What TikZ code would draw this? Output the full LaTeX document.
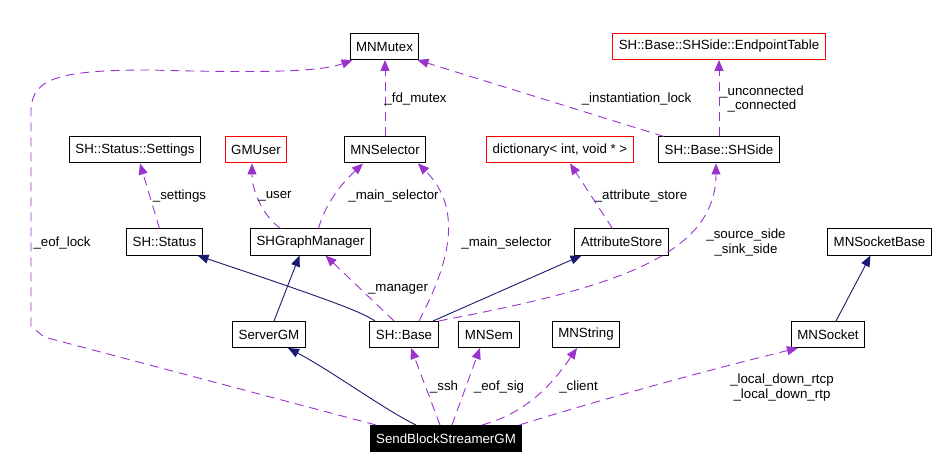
\documentclass[tikz,border=0pt]{standalone}
\usepackage{fontspec}
\setmainfont{Liberation Sans}
\usepackage{tikz}
\usetikzlibrary{arrows.meta}

\definecolor{inhblue}{RGB}{25,25,112}
\definecolor{usepurple}{RGB}{154,50,205}

\begin{document}
\begin{tikzpicture}[x=1pt,y=-1pt,
    font=\fontsize{13.3}{14.5}\selectfont,
    cls/.style={draw=black,line width=1pt,inner xsep=6pt,inner ysep=0pt,minimum height=26pt},
    redcls/.style={cls,draw=red},
    inh/.style={draw=inhblue,line width=0.9pt,-{Triangle[length=11pt,width=9pt]}},
    use/.style={draw=usepurple,line width=0.9pt,dash pattern=on 9pt off 6pt,
      -{Triangle[length=11pt,width=9pt,fill=usepurple]}},
    lbl/.style={inner sep=0pt,align=center}]
    \useasboundingbox (0,0) rectangle (938,468);

    % classes, top row
    \node[cls] (mnmutex) at (384.5,46.5) {MNMutex};
    \node[redcls] (eptable) at (719,46.5) {SH::Base::SHSide::EndpointTable};

    % second row
    \node[cls] (settings) at (135,150) {SH::Status::Settings};
    \node[redcls] (gmuser) at (256,150) {GMUser};
    \node[cls] (mnselector) at (385,150) {MNSelector};
    \node[redcls] (dict) at (560,150) {dictionary< int, void * >};
    \node[cls] (shside) at (719,150) {SH::Base::SHSide};

    % third row
    \node[cls] (status) at (164.5,242) {SH::Status};
    \node[cls] (graphmgr) at (310.5,242) {SHGraphManager};
    \node[cls] (attrstore) at (621.5,242) {AttributeStore};
    \node[cls] (sockbase) at (879.5,242) {MNSocketBase};

    % fourth row
    \node[cls] (servergm) at (269,334.5) {ServerGM};
    \node[cls] (shbase) at (404,334.5) {SH::Base};
    \node[cls] (mnsem) at (489,334.5) {MNSem};
    \node[cls] (mnstring) at (586,334.5) {MNString};
    \node[cls] (mnsocket) at (828,334.5) {MNSocket};

    % the class itself
    \node[cls,fill=black,text=white] (sendgm) at (446,438.5) {SendBlockStreamerGM};

    % inheritance
    \draw[inh] ([xshift=-29pt]shbase.north) .. controls (362,312) and (330,300) .. ([xshift=33pt]status.south);
    \draw[inh] ([xshift=5pt]servergm.north) -- ([xshift=-11pt]graphmgr.south);
    \draw[inh] ([xshift=29pt]shbase.north) -- ([xshift=-40pt]attrstore.south);
    \draw[inh] ([xshift=-30pt]sendgm.north) .. controls (385,410) and (330,370) .. ([xshift=19pt]servergm.south);
    \draw[inh] ([xshift=8pt]mnsocket.north) -- ([xshift=-9pt]sockbase.south);

    % usage
    \draw[use] ([xshift=-70pt]sendgm.north) -- (44,337) -- (31,326) -- (31,110)
      .. controls (32,78) and (60,70) .. (150,70)
      .. controls (260,73) and (320,72) .. ([xshift=3pt]mnmutex.south west);
    \draw[use] ([xshift=-55pt]shside.north) -- ([xshift=-2pt]mnmutex.south east);
    \draw[use] (mnselector.north) -- (mnselector.north |- mnmutex.south);
    \draw[use] (shside.north) -- (eptable.south);
    \draw[use] ([xshift=-5pt]status.north) -- ([xshift=5pt]settings.south);
    \draw[use] ([xshift=-30pt]graphmgr.north) .. controls (262,215) and (252,190) .. ([xshift=-4pt]gmuser.south);
    \draw[use] ([xshift=8pt]graphmgr.north) .. controls (325,205) and (340,185) .. ([xshift=-22pt]mnselector.south);
    \draw[use] ([xshift=15pt]shbase.north) .. controls (440,280) and (470,215) .. ([xshift=33pt]mnselector.south);
    \draw[use] ([xshift=-10pt]shbase.north) -- ([xshift=15pt]graphmgr.south);
    \draw[use] ([xshift=-9pt]attrstore.north) -- ([xshift=10pt]dict.south);
    \draw[use] (shbase.north east) .. controls (600,290) and (716,260) .. ([xshift=-3pt]shside.south);
    \draw[use] ([xshift=-6pt]sendgm.north) -- ([xshift=7pt]shbase.south);
    \draw[use] ([xshift=6pt]sendgm.north) -- ([xshift=-9pt]mnsem.south);
    \draw[use] ([xshift=36pt]sendgm.north) .. controls (530,412) and (555,380) .. ([xshift=-9pt]mnstring.south);
    \draw[use] ([xshift=-3pt]sendgm.north east) .. controls (600,400) and (700,372) .. ([xshift=-30pt]mnsocket.south);

    % member names
    \node[lbl] (l-eoflock) at (62,243) {\_eof\_lock};
    \node[lbl] (l-fdmutex) at (415.5,99) {\_fd\_mutex};
    \node[lbl] (l-instlock) at (636.5,99) {\_instantiation\_lock};
    \node[lbl] (l-connected) at (762,99) {\_unconnected\\\_connected};
    \node[lbl] (l-settings) at (179.5,196) {\_settings};
    \node[lbl] (l-user) at (275,196) {\_user};
    \node[lbl] (l-mainsel) at (393.5,196) {\_main\_selector};
    \node[lbl] (l-mainsel2) at (506.5,243) {\_main\_selector};
    \node[lbl] (l-attrstore) at (641,196) {\_attribute\_store};
    \node[lbl] (l-side) at (746,242.5) {\_source\_side\\\_sink\_side};
    \node[lbl] (l-manager) at (398,289) {\_manager};
    \node[lbl] (l-ssh) at (444,387) {\_ssh};
    \node[lbl] (l-eofsig) at (499,387) {\_eof\_sig};
    \node[lbl] (l-client) at (578.5,387) {\_client};
    \node[lbl] (l-localdown) at (782,387.5) {\_local\_down\_rtcp\\\_local\_down\_rtp};
  \end{tikzpicture}
\end{document}
